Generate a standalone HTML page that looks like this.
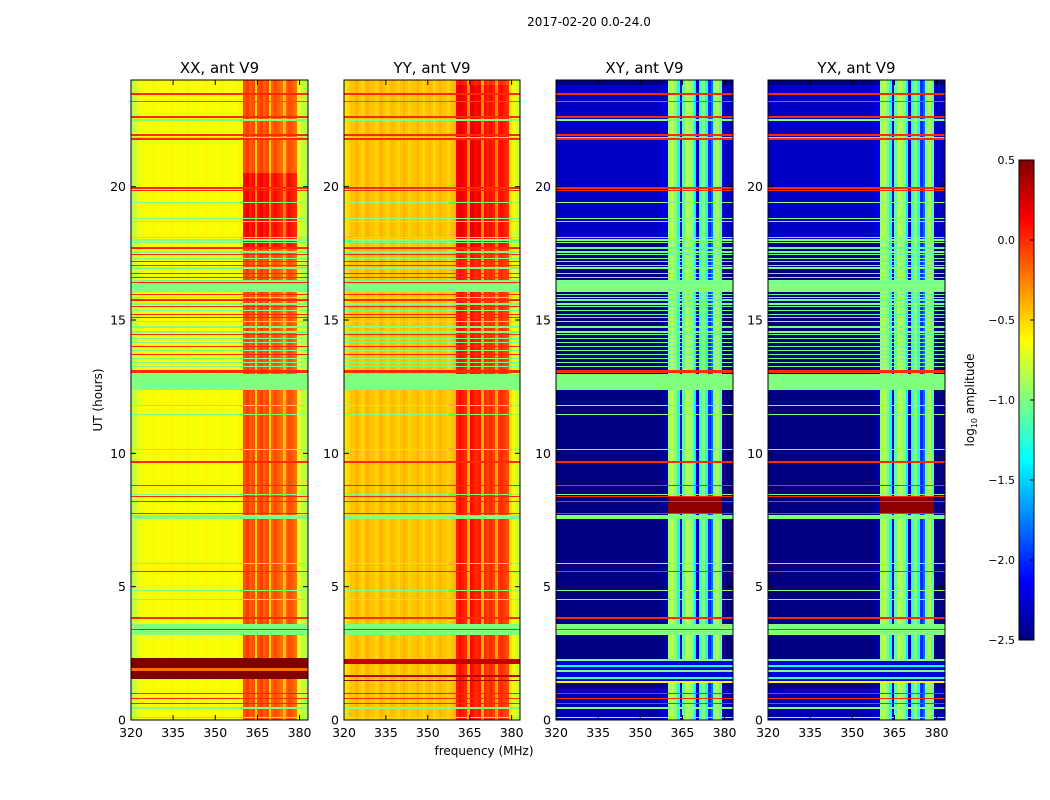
<!DOCTYPE html>
<html><head><meta charset="utf-8"><style>
html,body{margin:0;padding:0;background:#fff;}
#root{position:relative;width:1050px;height:800px;overflow:hidden;font-family:"DejaVu Sans","Liberation Sans",sans-serif;}
canvas{position:absolute;image-rendering:pixelated;}
svg{position:absolute;left:0;top:0;}
</style></head><body>
<div id="root">
<canvas id="c0" width="177" height="640" style="left:131px;top:80px"></canvas>
<canvas id="c1" width="176" height="640" style="left:344px;top:80px"></canvas>
<canvas id="c2" width="177" height="640" style="left:556px;top:80px"></canvas>
<canvas id="c3" width="177" height="640" style="left:768px;top:80px"></canvas>
<canvas id="cb" width="1" height="480" style="left:1019px;top:160px;width:15px;height:480px"></canvas>
<svg id="ov" width="1050" height="800"></svg>
</div>
<script>
// ---- data ----
const panelNames = ["XX, ant V9","YY, ant V9","XY, ant V9","YX, ant V9"];
const freqStart = 320; // MHz, 1 MHz bins
const xxBase = [-0.85,-0.75,-0.7,-0.65,-0.65,-0.62,-0.65,-0.65,-0.6,-0.65,-0.65,-0.62,-0.65,-0.65,-0.6,-0.65,-0.65,-0.62,-0.65,-0.65,-0.6,-0.65,-0.65,-0.62,-0.65,-0.65,-0.6,-0.65,-0.65,-0.62,-0.65,-0.65,-0.6,-0.65,-0.65,-0.62,-0.65,-0.65,-0.6,-0.6,
 -0.1,-0.05,-0.15,-0.1,-0.5,-0.1,-0.05,-0.15,-0.1,-0.5,-0.15,-0.1,-0.15,-0.2,-0.45,-0.15,-0.1,-0.15,-0.2,-0.65,-0.75,-0.8,-0.85];
const yyBase = [-0.55,-0.5,-0.45,-0.45,-0.4,-0.45,-0.5,-0.45,-0.4,-0.45,-0.45,-0.5,-0.45,-0.4,-0.45,-0.5,-0.45,-0.42,-0.45,-0.5,-0.45,-0.4,-0.45,-0.5,-0.45,-0.45,-0.4,-0.45,-0.5,-0.45,-0.42,-0.45,-0.5,-0.45,-0.4,-0.45,-0.45,-0.5,-0.45,-0.42,
 0.05,0.1,0.05,0.0,-0.4,0.1,0.05,0.0,0.05,-0.4,0.0,-0.05,0.0,-0.05,-0.35,-0.05,0.0,-0.05,-0.1,-0.55,-0.6,-0.7,-0.8];
const xyBase = [-2.5,-2.5,-2.5,-2.5,-2.5,-2.5,-2.5,-2.5,-2.5,-2.5,-2.5,-2.5,-2.5,-2.5,-2.5,-2.5,-2.5,-2.5,-2.5,-2.5,-2.5,-2.5,-2.5,-2.5,-2.5,-2.5,-2.5,-2.5,-2.5,-2.5,-2.5,-2.5,-2.5,-2.5,-2.5,-2.5,-2.5,-2.45,-2.4,-2.4,
 -0.9,-0.8,-1.0,-1.3,-2.2,-1.1,-0.8,-0.9,-1.0,-1.4,-2.3,-1.2,-1.0,-1.3,-2.0,-1.8,-1.0,-0.9,-1.1,-2.5,-2.5,-2.5,-2.5];
const yxBase = xyBase.slice();
// common flagged lines: centre time (h), width (h), value
const flagT = [23.46,23.2,22.62,22.5,21.93,21.85,21.78,19.95,19.85,19.4,18.8,18.7,18.1,18.0,17.9,17.7,17.55,17.45,17.3,17.2,17.05,16.95,16.75,16.6,16.27,16.4,15.95,15.85,15.75,15.6,15.5,15.35,15.2,15.1,14.95,14.75,14.55,14.45,14.3,14.15,14.0,13.85,13.7,13.55,13.4,13.25,13.08,12.67,11.8,11.45,10.15,9.67,8.8,8.47,8.37,8.2,7.75,7.615,5.88,5.58,4.85,4.53,3.82,3.395,3.41,1.0,0.8,0.63,0.45,0.1];
const flagW = [0.07,0.04,0.06,0.04,0.07,0.04,0.07,0.06,0.06,0.04,0.04,0.04,0.05,0.05,0.04,0.05,0.05,0.05,0.04,0.05,0.05,0.04,0.05,0.05,0.45,0.04,0.05,0.04,0.05,0.04,0.05,0.04,0.05,0.05,0.04,0.08,0.04,0.05,0.04,0.04,0.05,0.04,0.05,0.04,0.04,0.04,0.1,0.6,0.04,0.04,0.04,0.05,0.05,0.04,0.05,0.05,0.05,0.17,0.04,0.05,0.04,0.04,0.05,0.41,0.04,0.05,0.05,0.05,0.04,0.04];
const flagV = [0.0,-0.1,0.0,-1.0,0.0,-1.0,0.0,0.0,0.0,-1.0,-1.0,-1.0,-1.0,-1.0,-1.0,0.0,-1.0,0.0,-1.0,0.0,0.0,-1.0,0.0,0.0,-1.0,0.0,0.0,-1.0,0.0,-1.0,0.0,-1.0,0.0,0.0,-1.0,-1.0,-1.0,0.0,-1.0,-1.0,0.0,-1.0,0.0,-1.0,-1.0,-1.0,0.0,-1.0,-1.0,-1.0,-1.0,0.0,0.0,-1.0,0.0,0.0,0.0,-1.0,-1.0,0.0,-1.0,-1.0,0.0,-1.0,0.0,0.0,0.0,0.0,-1.0,-1.0];
// in cross-pol panels, red lines in this time range appear green
const crossGreenRange = [13.2,17.8];
const crossGreenVal = -1.1;
// per-panel events
const evT0 = [17.7,17.7,1.55,1.85,2.1,1.6,1.45,7.75,1.38,1.38,1.55,1.8,2.0,2.2,17.9,0.0];
const evT1 = [20.5,23.8,2.32,1.95,2.3,1.7,1.5,8.37,2.28,1.46,1.62,1.86,2.05,2.28,23.8,1.2];
const evPanels = ["0","1","0","0","1","1","1","23","23","23","23","23","23","23","23","23"];
const evVal = [0.2,0.1,0.5,-0.2,0.3,0.3,0.4,0.45,-2.2,-0.6,-1.2,-1.0,-1.3,-1.0,0.2,0.15];
const evScope = ["strip","strip","all","all","all","all","all","strip","all","all","all","all","all","all","bg","bg"];
const evMode = ["add","add","set","set","set","set","set","set","set","set","set","set","set","set","add","add"];
const xTicks = [320,335,350,365,380];
const yTicks = [0,5,10,15,20];
const cbTicks = [0.5,0.0,-0.5,-1.0,-1.5,-2.0,-2.5];
const cbLabels = ["0.5","0.0","\u22120.5","\u22121.0","\u22121.5","\u22122.0","\u22122.5"];
// ---- scales ----
const vmin=-2.5, vmax=0.5, fMin=320, fMax=383, tMax=24;
function jet(v){let x=(v-vmin)/(vmax-vmin);x=Math.max(0,Math.min(1,x));
 const c=a=>Math.max(0,Math.min(1,a));
 return [c(1.5-Math.abs(4*x-3))*255,c(1.5-Math.abs(4*x-2))*255,c(1.5-Math.abs(4*x-1))*255];}
const bases=[xxBase,yyBase,xyBase,yxBase];
function value(p,t,f){
 const bin=Math.min(bases[p].length-1,Math.max(0,Math.floor(f-freqStart)));
 let v=bases[p][bin]; const strip=f>=360&&f<379;
 for(let i=0;i<evT0.length;i++){
  if(evPanels[i].indexOf(String(p))<0) continue;
  if(t<evT0[i]||t>=evT1[i]) continue;
  if(evScope[i]==="strip"&&!strip) continue;
  if(evScope[i]==="bg"&&strip) continue;
  v = evMode[i]==="set"? evVal[i] : v+evVal[i];
 }
 for(let i=0;i<flagT.length;i++){
  const w=Math.max(flagW[i],0.04);
  if(Math.abs(t-flagT[i])<=w/2){
   v=flagV[i];
   if(p>=2&&v===0&&t>crossGreenRange[0]&&t<crossGreenRange[1]) v=crossGreenVal;
  }
 }
 return v;
}
for(let p=0;p<4;p++){
 const cv=document.getElementById('c'+p),ctx=cv.getContext('2d');
 const W=cv.width,H=cv.height,img=ctx.createImageData(W,H);
 for(let py=0;py<H;py++){const t=tMax*(1-(py+0.5)/H);
  for(let px=0;px<W;px++){const f=fMin+(px+0.5)*(fMax-fMin)/W;
   const c=jet(value(p,t,f)),k=(py*W+px)*4;
   img.data[k]=c[0];img.data[k+1]=c[1];img.data[k+2]=c[2];img.data[k+3]=255;}}
 ctx.putImageData(img,0,0);
}
(function(){const cv=document.getElementById('cb'),ctx=cv.getContext('2d');
 for(let i=0;i<480;i++){const v=vmax-(i+0.5)/480*(vmax-vmin);const c=jet(v);
  ctx.fillStyle='rgb('+c.map(Math.round).join(',')+')';ctx.fillRect(0,i,1,1);}})();
// ---- overlay ----
const NS="http://www.w3.org/2000/svg",ov=document.getElementById('ov');
function mk(tag,attrs,txt){const e=document.createElementNS(NS,tag);for(const k in attrs)e.setAttribute(k,attrs[k]);if(txt!==undefined)e.textContent=txt;ov.appendChild(e);return e;}
const panelX=[131,344,556,768],panelW=[177,176,177,177],topY=80,botY=720;
for(let p=0;p<4;p++){
 const x0=panelX[p],w=panelW[p];
 const xs=f=>x0+(f-fMin)/(fMax-fMin)*w, ys=t=>botY-t/tMax*(botY-topY);
 const fr=mk('rect',{x:x0,y:topY,width:w,height:botY-topY,fill:'none',stroke:'#000','stroke-width':1});
 
 
 const ti=mk('text',{x:x0+w/2,y:73,'text-anchor':'middle','font-size':15},panelNames[p]);
 
 
 xTicks.forEach(f=>{const x=xs(f);
  mk('line',{x1:x,x2:x,y1:botY,y2:botY-5,stroke:'#000'});mk('line',{x1:x,x2:x,y1:topY,y2:topY+5,stroke:'#000'});
  const l=mk('text',{x:x,y:botY+17,'text-anchor':'middle','font-size':12.5},String(f));
  
  });
 yTicks.forEach(t=>{const y=ys(t);
  mk('line',{x1:x0,x2:x0+5,y1:y,y2:y,stroke:'#000'});mk('line',{x1:x0+w,x2:x0+w-5,y1:y,y2:y,stroke:'#000'});
  const l=mk('text',{x:x0-5,y:y+4.5,'text-anchor':'end','font-size':12.5},String(t));
  
  });
}
const st=mk('text',{x:589,y:26,'text-anchor':'middle','font-size':12},"2017-02-20 0.0-24.0");


const xl=mk('text',{x:484,y:755,'text-anchor':'middle','font-size':12},"frequency (MHz)");


const yl=mk('text',{x:0,y:0,'text-anchor':'middle','font-size':12,transform:'translate(102,400) rotate(-90)'},"UT (hours)");


const cf=mk('rect',{x:1019,y:160,width:15,height:480,fill:'none',stroke:'#000'});


cbTicks.forEach((v,i)=>{const y=160+(vmax-v)/(vmax-vmin)*480;
 mk('line',{x1:1034,x2:1030,y1:y,y2:y,stroke:'#000'});
 const l=mk('text',{x:1015,y:y+4,'font-size':11,'text-anchor':'end'},cbLabels[i]);
 
 });
const cl=mk('text',{x:0,y:0,'text-anchor':'middle','font-size':12,transform:'translate(974,400) rotate(-90)'});


cl.innerHTML='log<tspan font-size="8" dy="3">10</tspan><tspan dy="-3"> amplitude</tspan>';
</script>
</body></html>
